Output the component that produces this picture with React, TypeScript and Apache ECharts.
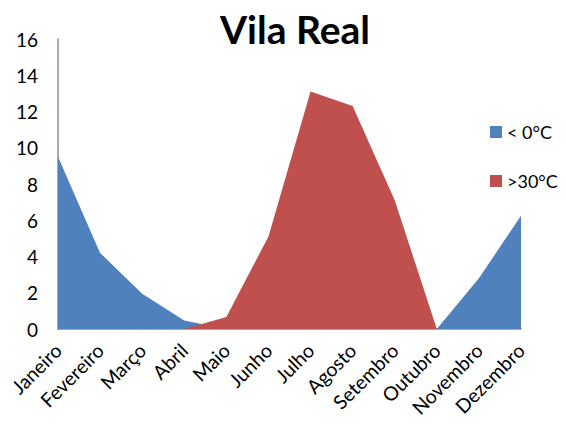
import React, { useEffect, useRef } from "react";
import * as echarts from "echarts";

const months = ["Janeiro", "Fevereiro", "Março", "Abril", "Maio", "Junho", "Julho", "Agosto", "Setembro", "Outubro", "Novembro", "Dezembro"];
const below0 = [9.5, 4.2, 1.95, 0.47, 0, 0, 0, 0, 0, 0, 2.8, 6.25];
const above30 = [0, 0, 0, 0, 0.66, 5.1, 13.1, 12.3, 7.1, 0, 0, 0];
const yTicks = { min: 0, max: 16, interval: 2 };

const FONT = "Lato";

export default function App() {
  const ref = useRef<HTMLDivElement>(null);
  useEffect(() => {
    const chart = echarts.init(ref.current!, null, { renderer: "svg" });
    chart.setOption({
      animation: false,
      backgroundColor: "#ffffff",
      title: {
        text: "Vila Real",
        left: 290,
        textAlign: "center",
        top: 4,
        textStyle: { fontFamily: FONT, fontWeight: "bold", fontSize: 39, color: "#000" },
      },
      legend: {
        orient: "vertical",
        left: 485,
        top: 117,
        itemWidth: 12,
        itemHeight: 12,
        itemGap: 29,
        itemTextGap: 5,
        icon: "rect",
        textStyle: { fontFamily: FONT, fontSize: 18, color: "#000", lineHeight: 20 },
        data: ["< 0°C", ">30°C"],
      },
      grid: { left: 58, right: 45, top: 39, bottom: 95, containLabel: false },
      xAxis: {
        type: "category",
        data: months,
        boundaryGap: false,
        axisLine: { lineStyle: { color: "#8c8c8c", width: 1.5 } },
        axisTick: { show: false },
        axisLabel: { rotate: 45, fontFamily: FONT, fontSize: 19.5, color: "#000", margin: 18, interval: 0 },
      },
      yAxis: {
        type: "value",
        min: yTicks.min,
        max: yTicks.max,
        interval: yTicks.interval,
        splitLine: { show: false },
        axisLine: { show: true, lineStyle: { color: "#8c8c8c", width: 1.5 } },
        axisTick: { show: false },
        axisLabel: { fontFamily: FONT, fontSize: 19, color: "#000", margin: 20 },
      },
      series: [
        {
          name: "< 0°C",
          type: "line",
          data: below0,
          symbol: "none",
          lineStyle: { width: 0 },
          areaStyle: { color: "#4f81bd", opacity: 1 },
          itemStyle: { color: "#4f81bd" },
          z: 2,
        },
        {
          name: ">30°C",
          type: "line",
          data: above30,
          symbol: "none",
          lineStyle: { width: 0 },
          areaStyle: { color: "#c0504d", opacity: 1 },
          itemStyle: { color: "#c0504d" },
          z: 3,
        },
      ],
    });
    return () => chart.dispose();
  }, []);
  return <div ref={ref} style={{ position: "fixed", left: 0, top: 0, width: 566, height: 424 }} />;
}
